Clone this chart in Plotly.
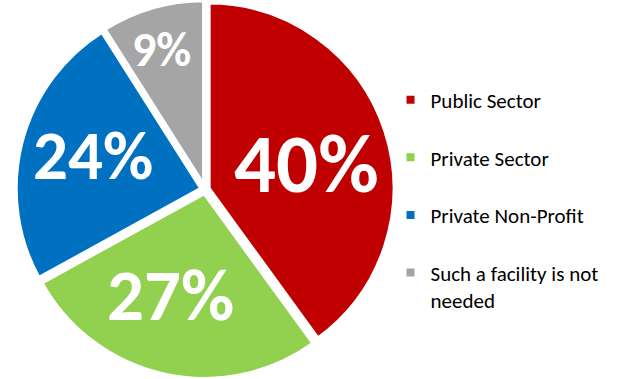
import math
import plotly.graph_objects as go

# Share of respondents by preferred facility operator
categories = ["Public Sector", "Private Sector", "Private Non-Profit",
              "Such a facility is not<br>needed"]
shares = [40, 27, 24, 9]
colors = ["#C00000", "#92D050", "#0070C0", "#A5A5A5"]

W, H = 635, 379
PIE_X = [0.0, 0.646]
PULL = 0.02
FONT = "Carlito, Calibri, Lato, sans-serif"

# per-slice label styling: font size, radial fraction, angular nudge (deg)
label_sizes = [83, 73, 69, 48]
label_radius = [0.56, 0.61, 0.63, 0.78]
label_nudge = [4.5, 5.3, 1.6, -1.5]

# legend entries padded to two lines so every entry takes the same height
legend_labels = [c if "<br>" in c else c + "<br> " for c in categories]

fig = go.Figure(
    go.Pie(
        labels=legend_labels,
        values=shares,
        sort=False,
        direction="clockwise",
        rotation=0,
        pull=PULL,
        marker=dict(colors=colors, line=dict(color="white", width=4)),
        textinfo="none",
        hoverinfo="label+percent",
        domain=dict(x=PIE_X, y=[0.0, 1.0]),
    )
)

# percentage labels placed along each slice's mid-angle
cx = (PIE_X[0] + PIE_X[1]) / 2 * W
cy = H / 2
radius = (H / 2) / (1 + PULL)
total = sum(shares)
start = 0.0
for v, size, rf, nudge in zip(shares, label_sizes, label_radius, label_nudge):
    mid = (start + v / 2) / total * 360 + nudge
    start += v
    a = math.radians(mid)
    px = cx + rf * radius * math.sin(a)
    py = cy - rf * radius * math.cos(a)
    fig.add_annotation(
        x=px / W, y=1 - py / H, xref="paper", yref="paper",
        text=f"<b>{v}%</b>", showarrow=False,
        xanchor="center", yanchor="middle", yshift=2,
        font=dict(family=FONT, size=size, color="white"),
    )

fig.update_layout(
    width=W,
    height=H,
    margin=dict(l=0, r=0, t=0, b=0),
    paper_bgcolor="white",
    plot_bgcolor="white",
    showlegend=True,
    legend=dict(
        x=0.615,
        y=0.79,
        xanchor="left",
        yanchor="top",
        valign="top",
        font=dict(family=FONT, size=21, color="#000000"),
        bgcolor="rgba(0,0,0,0)",
        borderwidth=0,
    ),
)

fig.write_html("out.html")
